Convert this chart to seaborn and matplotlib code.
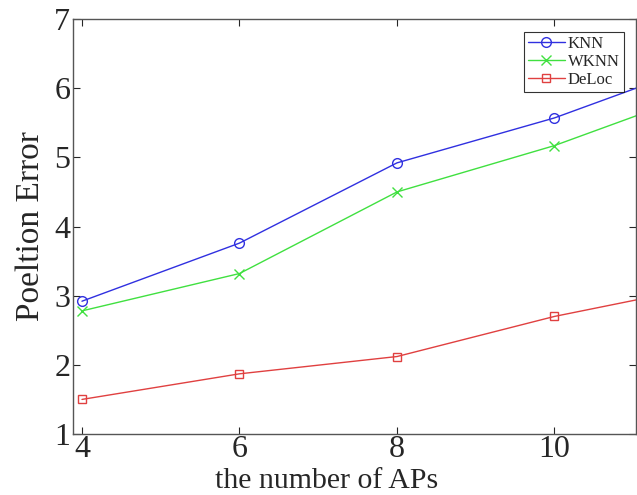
import matplotlib
matplotlib.use("Agg")
import matplotlib.pyplot as plt
import seaborn as sns
import pandas as pd

# number of APs (12 lies beyond the cropped right edge)
aps = [4, 6, 8, 10, 12]
knn = [2.92, 3.76, 4.92, 5.57, 6.40]
wknn = [2.78, 3.32, 4.50, 5.17, 6.00]
deloc = [1.50, 1.87, 2.12, 2.70, 3.16]

sns.set_style("ticks")
plt.rcParams['font.family'] = ['Liberation Serif', 'DejaVu Serif']
plt.rcParams['xtick.direction'] = 'in'
plt.rcParams['ytick.direction'] = 'in'

df = pd.DataFrame({
    'APs': aps * 3,
    'Error': knn + wknn + deloc,
    'Method': ['KNN'] * len(aps) + ['WKNN'] * len(aps) + ['DeLoc'] * len(aps),
})

fig = plt.figure(figsize=(6.37, 4.95), dpi=100)
ax = fig.add_axes([73 / 637, 1 - 434 / 495, (636 - 73) / 637, (434 - 19) / 495])

styles = {
    'KNN': dict(color='#3030e0', marker='o', mfc='none', ms=7),
    'WKNN': dict(color='#40e040', marker='x', ms=7),
    'DeLoc': dict(color='#e04040', marker='s', mfc='none', ms=6),
}
for name, st in styles.items():
    sub = df[df['Method'] == name]
    sns.lineplot(data=sub, x='APs', y='Error', ax=ax, label=name, lw=1.0,
                 mew=1.0, mec=st['color'], **st)

ax.set_xlim(3.886, 11.035)
ax.set_ylim(1, 7)
ax.set_xticks([4, 6, 8, 10])
ax.set_yticks([1, 2, 3, 4, 5, 6, 7])
ax.tick_params(labelsize=23, top=True, right=True, length=5, width=0.8)
ax.tick_params(axis='x', pad=1)
ax.tick_params(axis='y', pad=2)
for s in ax.spines.values():
    s.set_linewidth(1.0)
    s.set_color('#555555')
ax.set_xlabel('the number of APs', fontsize=21.5)
ax.xaxis.set_label_coords(0.451, -(488 - 434) / 415)
ax.xaxis.label.set_va('baseline')
ax.set_ylabel('Poeltion Error', fontsize=24, labelpad=6)

leg = ax.legend(loc='upper right', bbox_to_anchor=(624 / 637, 1 - 32 / 495),
                bbox_transform=fig.transFigure, fontsize=12, frameon=True,
                fancybox=False, edgecolor='black', borderpad=0.25,
                labelspacing=0.1, handlelength=2.2, handletextpad=0.2,
                borderaxespad=0)
leg.get_frame().set_linewidth(0.8)

fig.savefig('out.png', dpi=100)
